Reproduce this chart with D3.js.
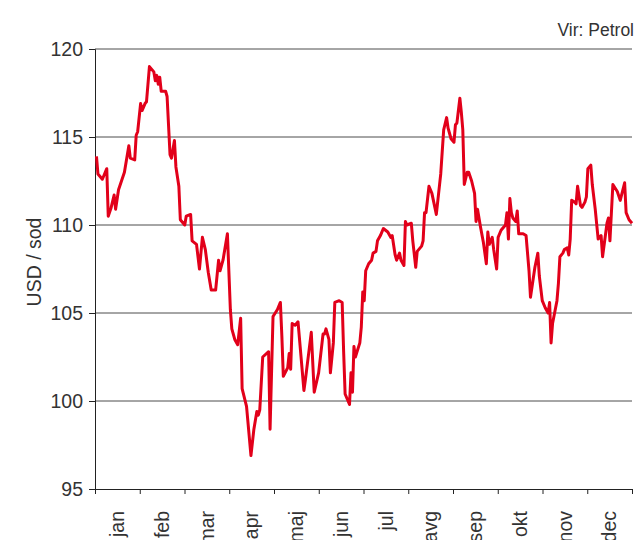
<!DOCTYPE html>
<html>
<head>
<meta charset="utf-8">
<script src="https://cdn.jsdelivr.net/npm/d3@7"></script>
<style>
  body { margin: 0; background: #fff; }
  svg { display: block; font-family: "Liberation Sans", Arial, sans-serif; }
</style>
</head>
<body>
<script>
// meseci na osi x
var months = ["jan", "feb", "mar", "apr", "maj", "jun", "jul", "avg", "sep", "okt", "nov", "dec"];

// dan v letu za vsako točko
var days = [1, 2, 5, 6, 8, 9, 11, 13, 14, 16, 18, 20, 23, 24, 27, 28, 29, 31, 32, 34,
  35, 37, 40, 41, 42, 43, 44, 45, 48, 49, 51, 52, 54, 55, 57, 58, 61, 62, 65, 66,
  69, 71, 73, 75, 77, 79, 82, 84, 85, 87, 90, 92, 93, 95, 97, 99, 100, 103, 106, 108,
  110, 111, 112, 114, 118, 119, 121, 124, 126, 127, 128, 131, 132, 133, 134, 136, 138, 142, 143, 147,
  149, 152, 155, 156, 157, 159, 160, 162, 163, 166, 168, 169, 170, 172, 173, 174, 175, 176, 177, 180,
  181, 182, 183, 184, 186, 188, 189, 191, 192, 194, 196, 199, 201, 202, 204, 205, 207, 208, 210, 211,
  212, 215, 216, 218, 219, 222, 223, 224, 225, 227, 229, 231, 232, 235, 237, 239, 240, 242, 244, 245,
  246, 248, 249, 250, 251, 253, 254, 256, 258, 259, 260, 262, 264, 266, 267, 268, 270, 271, 273, 274,
  276, 279, 280, 281, 282, 283, 284, 286, 287, 288, 291, 293, 295, 296, 299, 301, 302, 304, 306, 308,
  309, 310, 311, 314, 315, 316, 318, 319, 321, 322, 323, 324, 326, 327, 328, 330, 331, 333, 334, 335,
  337, 338, 340, 342, 344, 345, 348, 349, 350, 352, 355, 357, 360, 361, 363, 365];

// cena nafte Brent (USD / sod)
var prices = [113.9, 112.9, 112.6, 112.8, 113.2, 110.5, 111.0, 111.7, 110.9, 112.0, 112.5, 113.0, 114.5, 113.8, 113.7, 115.1, 115.3, 116.9, 116.5, 116.9,
  117.0, 119.0, 118.7, 118.2, 118.5, 118.0, 118.4, 117.6, 117.6, 117.3, 114.0, 113.8, 114.8, 113.3, 112.2, 110.3, 110.0, 110.5, 110.6, 109.1,
  108.9, 107.5, 109.3, 108.6, 107.3, 106.3, 106.3, 108.0, 107.4, 108.0, 109.5, 105.2, 104.1, 103.5, 103.2, 104.7, 100.7, 99.7, 96.9, 98.4,
  99.4, 99.2, 99.5, 102.5, 102.8, 98.4, 104.8, 105.2, 105.6, 103.7, 101.4, 101.9, 102.7, 101.8, 104.4, 104.3, 104.5, 100.6, 101.2, 103.9,
  100.5, 101.6, 103.8, 103.8, 104.1, 103.5, 101.6, 103.3, 105.6, 105.7, 105.6, 102.8, 100.4, 100.0, 99.8, 101.6, 100.5, 103.1, 102.5, 103.3,
  104.2, 106.2, 105.7, 107.4, 107.8, 108.0, 108.4, 108.5, 109.1, 109.4, 109.8, 109.6, 109.3, 109.4, 108.3, 108.0, 108.4, 108.0, 107.7, 110.2,
  110.0, 110.1, 109.1, 107.6, 108.5, 108.8, 109.1, 110.7, 110.7, 112.2, 111.8, 111.0, 110.6, 112.9, 115.4, 116.1, 115.5, 114.9, 114.7, 115.7,
  115.8, 117.2, 116.4, 115.4, 112.3, 113.0, 113.0, 112.5, 111.8, 110.2, 110.9, 109.9, 109.0, 107.8, 109.6, 108.9, 109.3, 108.6, 107.5, 109.3,
  109.7, 110.0, 110.7, 109.2, 111.5, 110.7, 110.4, 110.2, 110.8, 109.5, 109.5, 109.4, 107.4, 105.9, 107.6, 108.4, 107.1, 105.7, 105.3, 105.0,
  105.6, 103.3, 104.4, 105.7, 106.7, 108.2, 108.4, 108.6, 108.7, 108.3, 109.2, 111.4, 111.3, 111.2, 112.2, 111.1, 111.0, 111.3, 111.6, 113.2,
  113.4, 112.3, 110.9, 109.2, 109.4, 108.2, 110.1, 110.4, 109.1, 112.3, 111.9, 111.4, 112.4, 110.7, 110.3, 110.1];

var yTicks = [95, 100, 105, 110, 115, 120];

var data = days.map(function (d, i) { return { day: d, price: prices[i] }; });

// dimenzije
var width = 636;
var height = 540;
var margin = { top: 49, right: 4, bottom: 51, left: 95 };
var fontSize = "19.5px";

var svg = d3.select("body").append("svg")
  .attr("width", width)
  .attr("height", height);

var x = d3.scaleLinear().domain([0, 365]).range([margin.left, width - margin.right]);
var y = d3.scaleLinear().domain([95, 120]).range([height - margin.bottom, margin.top]);
var monthLen = 365 / 12;

// vodoravne mrežne črte
svg.append("g")
  .selectAll("line")
  .data(yTicks.slice(1))
  .enter().append("line")
  .attr("x1", x(0))
  .attr("x2", x(365))
  .attr("y1", d => y(d))
  .attr("y2", d => y(d))
  .style("stroke", "#4d4d4d")
  .style("stroke-width", 1);

// os y
var yAxis = svg.append("g")
  .attr("transform", `translate(${x(0)},0)`)
  .call(d3.axisLeft(y).tickValues(yTicks).tickSize(6).tickPadding(6));

// os x, oznake so med črticami
var xAxis = svg.append("g")
  .attr("transform", `translate(0,${y(95)})`)
  .call(d3.axisBottom(x)
    .tickValues(d3.range(13).map(i => i * monthLen))
    .tickSize(5)
    .tickFormat(""));

[yAxis, xAxis].forEach(function (g) {
  g.select(".domain").style("stroke", "#222").attr("stroke-width", 1);
  g.selectAll(".tick line").style("stroke", "#222");
  g.selectAll("text").style("font-size", fontSize).style("fill", "#333")
    .style("font-family", "'Liberation Sans', Arial, sans-serif");
});

svg.append("g")
  .selectAll("text")
  .data(months)
  .enter().append("text")
  .attr("transform", (d, i) => `translate(${x((i + 0.5) * monthLen)},${y(95) + 22}) rotate(-90)`)
  .attr("dy", "0.35em")
  .attr("text-anchor", "end")
  .style("font-size", fontSize)
  .style("fill", "#333")
  .text(d => d);

// naslov osi y
svg.append("text")
  .attr("transform", `translate(41,${262}) rotate(-90)`)
  .attr("text-anchor", "middle")
  .style("font-size", fontSize)
  .style("fill", "#333")
  .text("USD / sod");

// vir
svg.append("text")
  .attr("x", 634)
  .attr("y", 36)
  .attr("text-anchor", "end")
  .style("font-size", "17.5px")
  .style("fill", "#333")
  .text("Vir: Petrol");

// črta cene
var line = d3.line()
  .x(d => x(d.day))
  .y(d => y(d.price));

svg.append("path")
  .datum(data)
  .attr("d", line)
  .style("fill", "none")
  .style("stroke", "#e2001a")
  .style("stroke-width", 3)
  .style("stroke-linejoin", "round");
</script>
</body>
</html>
